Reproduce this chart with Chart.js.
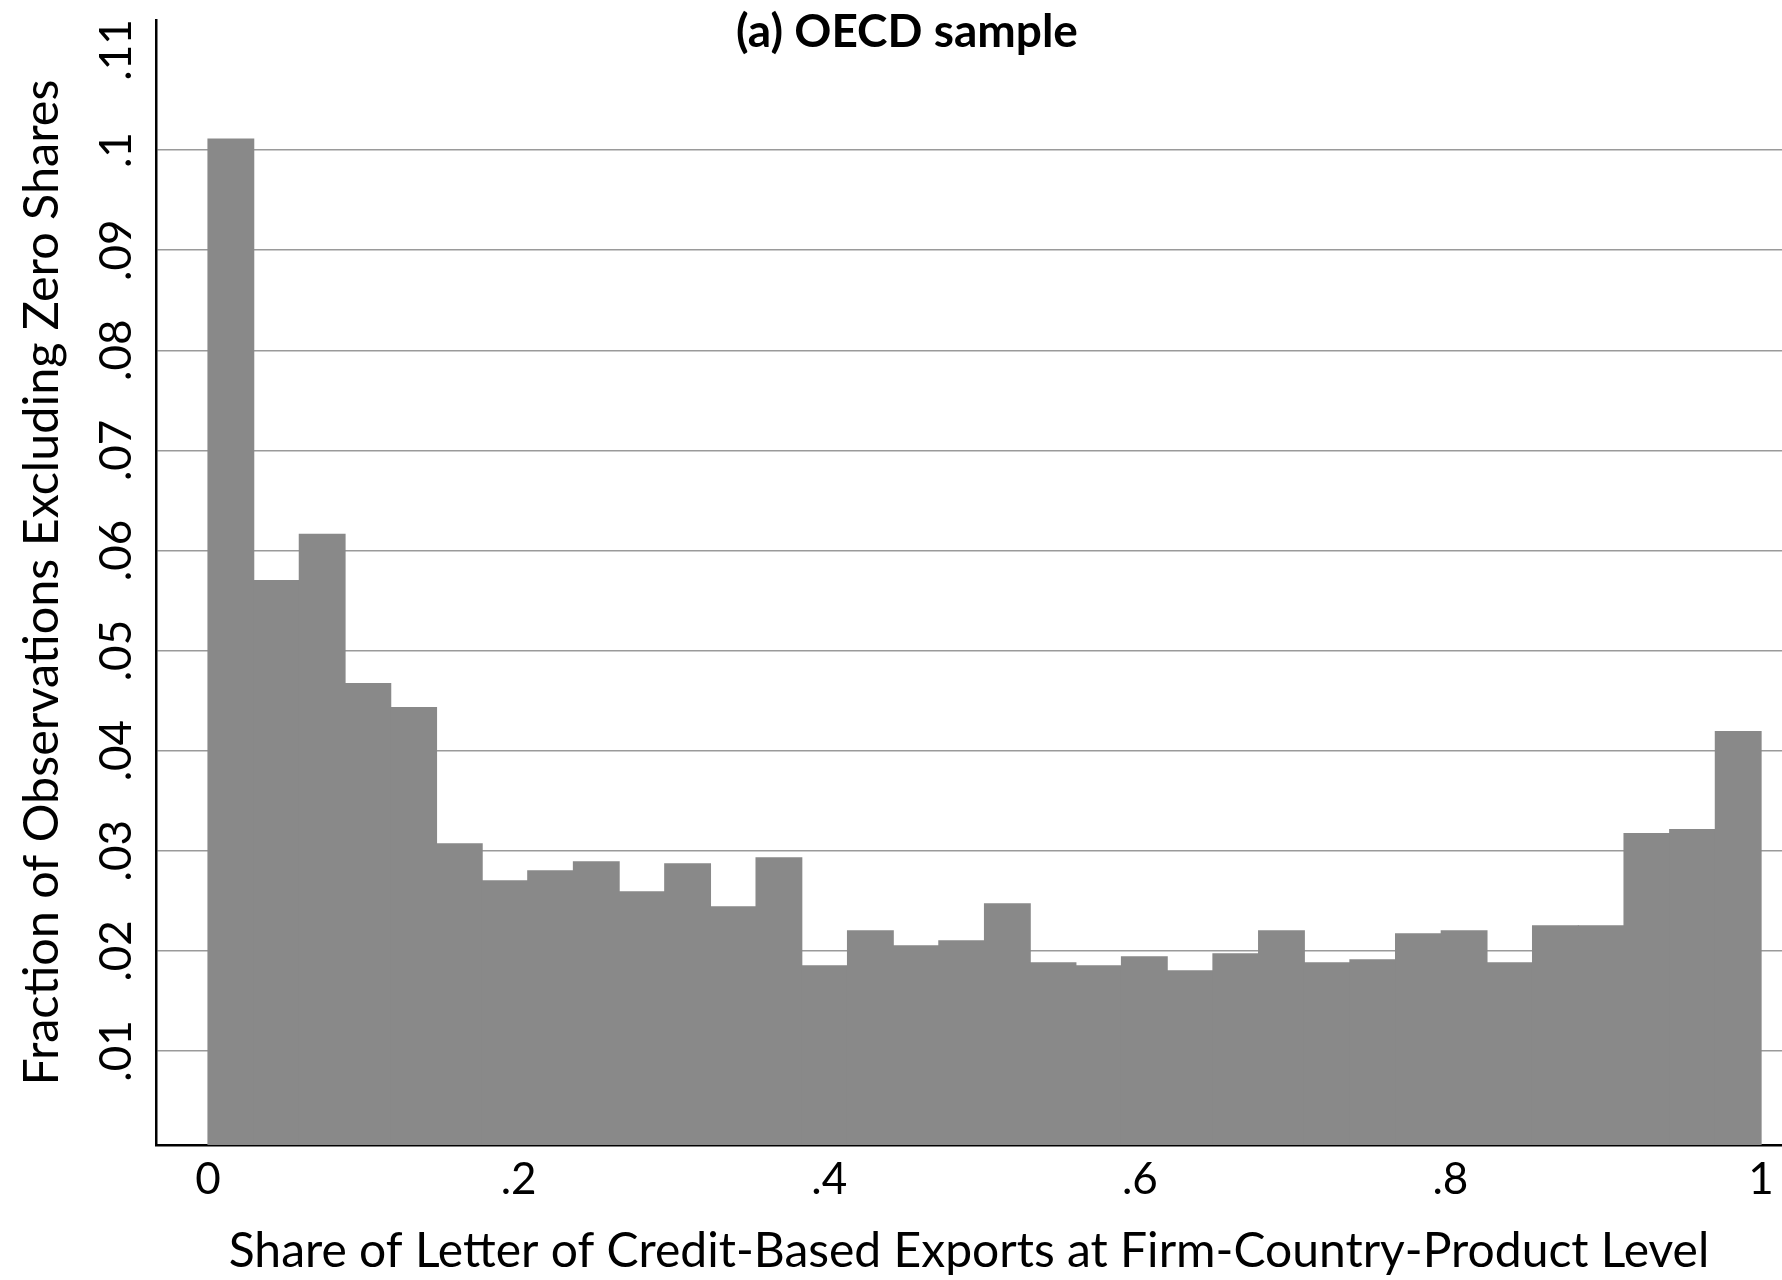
<!DOCTYPE html>
<html>
<head>
<meta charset="utf-8">
<script src="https://cdn.jsdelivr.net/npm/chart.js@4.4.1/dist/chart.umd.min.js"></script>
<style>
html, body { margin: 0; padding: 0; background: #ffffff; }
#c { display: block; }
</style>
</head>
<body>
<canvas id="c" width="1782" height="1280"></canvas>
<script>
// Histogram bins (centres of 34 equal-width bins on [0,1])
const binCenters = [
  0.0147, 0.0441, 0.0735, 0.1029, 0.1324, 0.1618, 0.1912, 0.2206, 0.2500, 0.2794,
  0.3088, 0.3382, 0.3676, 0.3971, 0.4265, 0.4559, 0.4853, 0.5147, 0.5441, 0.5735,
  0.6029, 0.6324, 0.6618, 0.6912, 0.7206, 0.7500, 0.7794, 0.8088, 0.8382, 0.8676,
  0.8971, 0.9265, 0.9559, 0.9853
];
// Fraction of observations in each bin
const fractions = [
  0.1011, 0.0570, 0.0616, 0.0467, 0.0443, 0.0307, 0.0270, 0.0280, 0.0289, 0.0259,
  0.0287, 0.0244, 0.0293, 0.0185, 0.0220, 0.0205, 0.0210, 0.0247, 0.0188, 0.0185,
  0.0194, 0.0180, 0.0197, 0.0220, 0.0188, 0.0191, 0.0217, 0.0220, 0.0188, 0.0225,
  0.0225, 0.0317, 0.0321, 0.0419
];
const xTickValues = [0, 0.2, 0.4, 0.6, 0.8, 1];
const xTickLabels = ['0', '.2', '.4', '.6', '.8', '1'];
const yTickValues = [0.01, 0.02, 0.03, 0.04, 0.05, 0.06, 0.07, 0.08, 0.09, 0.10, 0.11];
const yTickLabels = ['.01', '.02', '.03', '.04', '.05', '.06', '.07', '.08', '.09', '.1', '.11'];

const chartTitle = '(a) OECD sample';
const xTitle = 'Share of Letter of Credit-Based Exports at Firm-Country-Product Level';
const yTitle = 'Fraction of Observations Excluding Zero Shares';

const FONT = 'Lato';

function labelFor(values, labels, v) {
  const i = values.findIndex(t => Math.abs(t - v) < 1e-9);
  return i >= 0 ? labels[i] : '';
}

new Chart(document.getElementById('c'), {
  type: 'bar',
  data: {
    datasets: [{
      data: binCenters.map((x, i) => ({ x: x, y: fractions[i] })),
      backgroundColor: '#898989',
      borderWidth: 0,
      inflateAmount: 0.6,
      barPercentage: 1.0,
      categoryPercentage: 1.0
    }]
  },
  options: {
    responsive: false,
    animation: false,
    devicePixelRatio: 1,
    layout: { padding: { left: 32, right: 0, top: 0, bottom: 0 } },
    plugins: {
      legend: { display: false },
      tooltip: { enabled: false },
      title: {
        display: true,
        text: chartTitle,
        color: '#000000',
        font: { family: FONT, size: 46, weight: 'bold', lineHeight: 1.2 },
        padding: { top: 4.4, bottom: -39.6 }
      }
    },
    scales: {
      x: {
        type: 'linear',
        offset: false,
        min: -0.0335,
        max: 1.0135,
        z: 1,
        afterBuildTicks: s => { s.ticks = xTickValues.map(v => ({ value: v })); },
        afterFit: s => { s.height = 135; s.paddingLeft = 0; s.paddingRight = 0; },
        ticks: {
          autoSkip: false,
          minRotation: 0,
          maxRotation: 0,
          padding: 8,
          color: '#000000',
          font: { family: FONT, size: 44 },
          callback: v => labelFor(xTickValues, xTickLabels, v)
        },
        grid: { color: 'rgba(0,0,0,0)', drawTicks: false, offset: false },
        border: { color: '#000000', width: 2.5 },
        title: {
          display: true,
          text: xTitle,
          color: '#000000',
          font: { family: FONT, size: 48, lineHeight: 1.2 },
          padding: { top: 0, bottom: 0 }
        }
      },
      y: {
        type: 'linear',
        min: 0.0006,
        max: 0.113,
        afterBuildTicks: s => { s.ticks = yTickValues.map(v => ({ value: v })); },
        afterFit: s => { s.width = 124; s.paddingTop = 0; s.paddingBottom = 0; },
        ticks: {
          minRotation: 90,
          maxRotation: 90,
          crossAlign: 'center',
          padding: 8,
          color: '#000000',
          font: { family: FONT, size: 44 },
          callback: v => labelFor(yTickValues, yTickLabels, v)
        },
        grid: {
          drawTicks: false,
          lineWidth: 1.5,
          color: ctx => (ctx.tick && Math.abs(ctx.tick.value - 0.11) < 1e-9) ? 'rgba(0,0,0,0)' : '#9a9a9a'
        },
        border: { color: '#000000', width: 2.5 },
        title: {
          display: true,
          text: yTitle,
          color: '#000000',
          font: { family: FONT, size: 48.5, lineHeight: 1.2 },
          padding: { top: -19.1, bottom: 0 }
        }
      }
    }
  }
});
</script>
</body>
</html>
